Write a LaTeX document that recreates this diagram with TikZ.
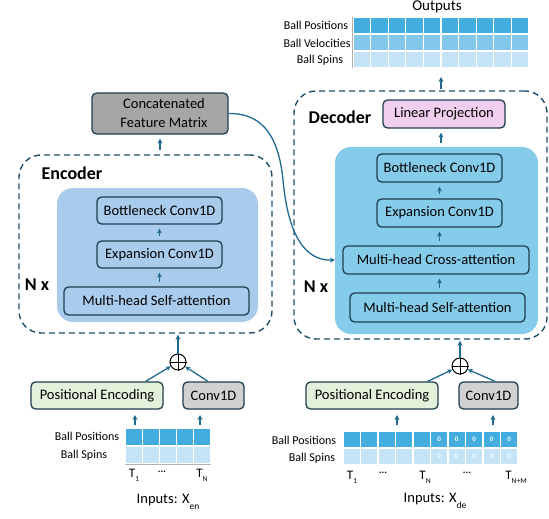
\documentclass[tikz,border=0pt]{standalone}
\usepackage{fontspec}
\setmainfont{Carlito}
\usetikzlibrary{arrows.meta,calc}
\definecolor{boxline}{HTML}{1F3E50}
\definecolor{arrowc}{HTML}{1F6A8E}
\definecolor{dashc}{HTML}{1F4E6B}
\definecolor{encfill}{HTML}{A9CBEC}
\definecolor{decfill}{HTML}{85CBEA}
\definecolor{concatfill}{HTML}{A6A6A6}
\definecolor{linfill}{HTML}{F1CDEE}
\definecolor{pefill}{HTML}{E3F1DA}
\definecolor{convfill}{HTML}{D1D1D1}
\definecolor{rowA}{HTML}{44ADDF}
\definecolor{rowB}{HTML}{81C8EA}
\definecolor{rowC}{HTML}{C4E4F5}
\tikzset{
  blk/.style={draw=boxline, rounded corners=4.5pt, line width=1.3pt, inner sep=0pt,
    font=\fontsize{14.5}{19}\selectfont, align=center},
  inner/.style={rounded corners=16pt, inner sep=0pt},
  dashbox/.style={draw=dashc, dash pattern=on 6pt off 4pt, line width=1.4pt, rounded corners=22pt, inner sep=0pt},
  arr/.style={draw=arrowc, line width=1.3pt, -{Stealth[length=5pt,width=5pt]}},
  shortarr/.style={arr, shorten <=4pt, shorten >=4pt},
  lbl/.style={font=\fontsize{12}{14}\selectfont, inner sep=0pt},
  bigb/.style={font=\fontsize{18}{20}\selectfont\bfseries, inner sep=0pt},
  cell/.style={draw=white, line width=1.3pt},
  plus/.style={draw=black, circle, line width=1pt, minimum size=16pt, inner sep=0pt},
}
\newcommand{\tlab}[1]{T\raisebox{-4pt}{\fontsize{7.5}{8}\selectfont #1}}
\begin{document}
\begin{tikzpicture}[x=1pt,y=-1pt]
\useasboundingbox (0,0) rectangle (549,519);

% ---------------- Encoder ----------------
\node[dashbox, minimum width=253pt, minimum height=178pt] (edash) at (145.5,244) {};
\node[inner, fill=encfill, minimum width=201pt, minimum height=134pt] (einner) at (157.5,255) {};
\node[bigb] (enclab) at (72,173) {Encoder};
\node[bigb] (enx) at (37,285) {N x};
\node[blk, fill=encfill, minimum width=125pt, minimum height=27pt] (ebot) at (159.5,210.5) {Bottleneck Conv1D};
\node[blk, fill=encfill, minimum width=125pt, minimum height=27pt] (eexp) at (159.5,254.5) {Expansion Conv1D};
\node[blk, fill=encfill, minimum width=185pt, minimum height=28pt] (esa) at (156.5,301) {Multi-head Self-attention};
\draw[shortarr] (esa.north -| eexp) -- (eexp.south);
\draw[shortarr] (eexp.north) -- (ebot.south);

\node[blk, fill=concatfill, minimum width=136pt, minimum height=41pt] (concat) at (160,113.5) {\hspace{8pt}Concatenated\\\hspace{8pt}Feature Matrix};
\draw[shortarr] (edash.north -| concat) -- (concat.south);

\node[plus] (eplus) at (178,362) {};
\draw[black, line width=1pt] (eplus.north) -- (eplus.south) (eplus.west) -- (eplus.east);
\draw[arr, shorten >=1pt] (eplus.north) -- (eplus.north |- edash.south);

\node[blk, fill=pefill, minimum width=132pt, minimum height=27pt] (epe) at (97,395.5) {Positional Encoding};
\node[blk, fill=convfill, minimum width=61pt, minimum height=27pt] (econv) at (213.5,395.5) {Conv1D};
\draw[arr] ([xshift=-18pt]epe.north east) -- (eplus);
\draw[arr] ([xshift=-5.5pt]econv.north) -- (eplus);

% encoder input grid
\foreach \i in {0,...,4} {
  \fill[rowA, cell] (125+\i*17.2,428) rectangle ++(17.2,18);
  \fill[rowC, cell] (125+\i*17.2,446) rectangle ++(17.2,18);
}
\draw[gray!60, line width=0.6pt] (125,464.6) -- (211,464.6);
\coordinate (eg1) at (135,425);
\coordinate (eg2) at (200,425);
\draw[arr] (eg1) -- (eg1 |- 0,415);
\draw[arr] (eg2) -- (eg2 |- 0,415);
\node[lbl] (ebp) at (87,436.5) {Ball Positions};
\node[lbl] (ebs) at (84,455) {Ball Spins};
\node[lbl, font=\fontsize{13}{14}\selectfont] (et1) at (134,475) {\tlab{1}};
\node[lbl, font=\fontsize{10}{12}\selectfont\bfseries] (edots) at (162,472) {...};
\node[lbl, font=\fontsize{13}{14}\selectfont] (etn) at (202,475) {\tlab{N}};
\node[lbl, font=\fontsize{14.5}{16}\selectfont] (ein) at (168,502) {Inputs: X\raisebox{-6pt}{\fontsize{9.5}{10}\selectfont en}};

% ---------------- Decoder ----------------
\node[dashbox, minimum width=253pt, minimum height=248pt] (ddash) at (420.5,215) {};
\node[inner, fill=decfill, minimum width=203pt, minimum height=187pt] (dinner) at (436.5,240.5) {};
\node[bigb] (declab) at (340,117) {Decoder};
\node[bigb] (dnx) at (316,287) {N x};
\node[blk, fill=linfill, minimum width=122pt, minimum height=28pt] (dlin) at (444,114) {Linear Projection};
\node[blk, fill=decfill, minimum width=125pt, minimum height=28pt] (dbot) at (439.5,168) {Bottleneck Conv1D};
\node[blk, fill=decfill, minimum width=125pt, minimum height=28pt] (dexp) at (439.5,213) {Expansion Conv1D};
\node[blk, fill=decfill, minimum width=186pt, minimum height=28pt] (dca) at (436,260) {Multi-head Cross-attention};
\node[blk, fill=decfill, minimum width=175pt, minimum height=29pt] (dsa) at (437.5,307.5) {Multi-head Self-attention};
\draw[shortarr] (dsa.north -| dexp) -- (dca.south -| dexp);
\draw[shortarr] (dca.north -| dexp) -- (dexp.south);
\draw[shortarr] (dexp.north) -- (dbot.south);
\draw[shortarr] (dinner.north -| 441,0) -- (dlin.south -| 441,0);

% cross connection
\draw[arr] (concat.east) .. controls (265,113) and (279,140) .. (283,180)
  .. controls (288,235) and (305,261) .. (dinner.west |- dca.west);

% outputs
\foreach \i in {0,...,9} {
  \fill[rowA, cell] (353+\i*17.6,17) rectangle ++(17.6,17);
  \fill[rowB, cell] (353+\i*17.6,34) rectangle ++(17.6,17);
  \fill[rowC, cell] (353+\i*17.6,51) rectangle ++(17.6,17);
}
\draw[gray!60, line width=0.6pt] (352.3,17) -- (352.3,68);
\node[font=\fontsize{15}{16}\selectfont, inner sep=0pt] (outlab) at (437,7) {Outputs};
\node[lbl] (obp) at (316,25.5) {Ball Positions};
\node[lbl] (obv) at (317,43) {Ball Velocities};
\node[lbl] (obs) at (320,60) {Ball Spins};
\coordinate (oa) at (441,89);
\draw[arr] (oa) -- (oa |- 0,77);

% decoder input side
\node[plus] (dplus) at (460,366) {};
\draw[black, line width=1pt] (dplus.north) -- (dplus.south) (dplus.west) -- (dplus.east);
\draw[arr, shorten >=1pt] (dplus.north) -- (dplus.north |- ddash.south);
\node[blk, fill=pefill, minimum width=132pt, minimum height=27pt] (dpe) at (372,395.5) {Positional Encoding};
\node[blk, fill=convfill, minimum width=59pt, minimum height=27pt] (dconv) at (488.5,395.5) {Conv1D};
\draw[arr] ([xshift=-11pt]dpe.north east) -- (dplus);
\draw[arr] ([xshift=6.5pt]dconv.north) -- (dplus);

\foreach \i in {0,...,9} {
  \fill[rowA, cell] (343+\i*17.5,431) rectangle ++(17.5,17);
  \fill[rowC, cell] (343+\i*17.5,448) rectangle ++(17.5,17);
}
\foreach \i in {5,...,9} {
  \node[font=\fontsize{7}{8}\selectfont\bfseries, text=white, inner sep=0pt] at (351.75+\i*17.5,439.5) {0};
  \node[font=\fontsize{7}{8}\selectfont\bfseries, text=white, inner sep=0pt] at (351.75+\i*17.5,456.5) {0};
}
\coordinate (dg1) at (397,425);
\coordinate (dg2) at (493,425);
\draw[arr] (dg1) -- (dg1 |- 0,415);
\draw[arr] (dg2) -- (dg2 |- 0,415);
\node[lbl] (dbp) at (304,440) {Ball Positions};
\node[lbl] (dbs) at (312,458) {Ball Spins};
\node[lbl, font=\fontsize{13}{14}\selectfont] (dt1) at (352,477) {\tlab{1}};
\node[lbl, font=\fontsize{10}{12}\selectfont\bfseries] (ddots1) at (383,473) {...};
\node[lbl, font=\fontsize{13}{14}\selectfont] (dtn) at (425,477) {\tlab{N}};
\node[lbl, font=\fontsize{10}{12}\selectfont\bfseries] (ddots2) at (467,473) {...};
\node[lbl, font=\fontsize{13}{14}\selectfont] (dtnm) at (516,477) {\tlab{N+M}};
\node[lbl, font=\fontsize{14.5}{16}\selectfont] (din) at (435,501) {Inputs: X\raisebox{-6pt}{\fontsize{9.5}{10}\selectfont de}};
\end{tikzpicture}
\end{document}
